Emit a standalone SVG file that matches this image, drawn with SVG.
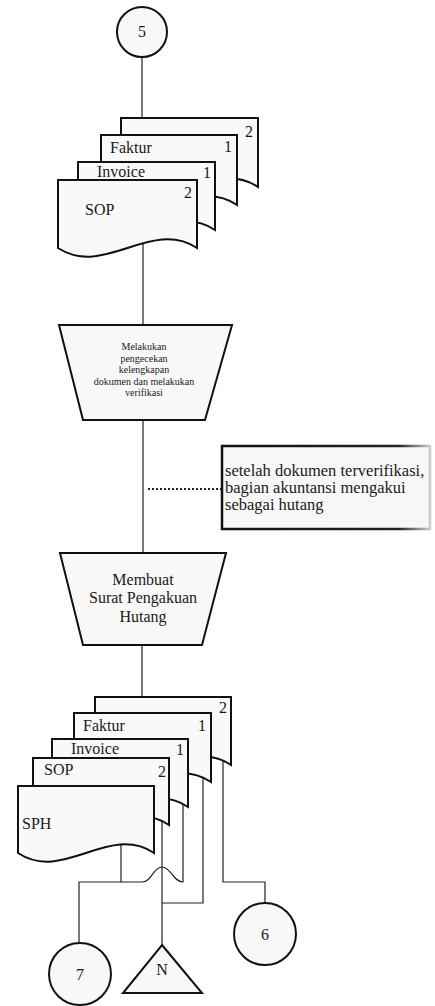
<svg xmlns="http://www.w3.org/2000/svg" width="435" height="1006" viewBox="0 0 435 1006">
  <defs>
    <style>
      .conn { fill: none; stroke: #222; stroke-width: 1.2; }
      .dot { fill: none; stroke: #222; stroke-width: 2; stroke-dasharray: 2 2; }
      .doc { fill: #f9f9f9; stroke: #111; stroke-width: 2; stroke-linejoin: miter; }
      .shape { fill: #f8f8f8; stroke: #111; stroke-width: 2; }
      .t { font-family: "Liberation Serif", "Times New Roman", serif; fill: #1a1a1a; }
      .t16 { font-size: 16px; }
      .t10 { font-size: 10px; }
      .tnote { font-size: 16.5px; }
      .mid { text-anchor: middle; }
    </style>
    <linearGradient id="noteEdge" x1="0" y1="0" x2="1" y2="0">
      <stop offset="0" stop-color="#111"/>
      <stop offset="0.85" stop-color="#222"/>
      <stop offset="1" stop-color="#ccc"/>
    </linearGradient>
  </defs>

  <!-- connectors (drawn first so document shapes sit over their ends) -->
  <g id="connectors">
    <path class="conn" d="M142,57 V118"/>
    <path class="conn" d="M143,240 V325"/>
    <path class="conn" d="M143,420 V553"/>
    <path class="dot" d="M148,489 H221"/>
    <path class="conn" d="M142,645 V697"/>
    <!-- SPH and Invoice to connector 7 -->
    <path class="conn" d="M121,845 V882 H79 V943"/>
    <path class="conn" d="M121,882 H142 C152,882 153,867 162,867 C171,867 173,882 183,882 V800"/>
    <!-- SOP and Faktur to archive N -->
    <path class="conn" d="M162,818 V945"/>
    <path class="conn" d="M203,775 V903 H162"/>
    <!-- second copy to connector 6 -->
    <path class="conn" d="M223,760 V882 H265 V903"/>
  </g>

  <!-- off-page connector 5 -->
  <g id="conn5">
    <circle class="shape" cx="142" cy="32" r="25"/>
    <text class="t t16 mid" x="142" y="37">5</text>
  </g>

  <!-- first document stack -->
  <g id="docs1">
    <g id="docs1-copy2">
      <path class="doc" d="M121,118 H258 V187 C212,157 167,217 121,187 Z"/>
      <text class="t t16" x="245" y="137">2</text>
    </g>
    <g id="docs1-faktur">
      <path class="doc" d="M101,135 H237 V205 C192,175 146,235 101,205 Z"/>
      <text class="t t16" x="110" y="153">Faktur</text>
      <text class="t t16" x="224" y="152">1</text>
    </g>
    <g id="docs1-invoice">
      <path class="doc" d="M78,162 H215 V230 C169,200 124,260 78,230 Z"/>
      <text class="t t16" x="97" y="177">Invoice</text>
      <text class="t t16" x="203" y="178">1</text>
    </g>
    <g id="docs1-sop">
      <path class="doc" d="M58,180 H197 V248 C151,218 104,278 58,248 Z"/>
      <text class="t t16" x="184" y="198">2</text>
      <text class="t t16" x="85" y="215">SOP</text>
    </g>
  </g>

  <!-- manual operation: verification -->
  <g id="verify">
    <path class="shape" d="M59,325 H232 L205,420 H83 Z"/>
    <text class="t t10 mid" x="144" y="350">Melakukan</text>
    <text class="t t10 mid" x="144" y="362">pengecekan</text>
    <text class="t t10 mid" x="144" y="373">kelengkapan</text>
    <text class="t t10 mid" x="144" y="385">dokumen dan melakukan</text>
    <text class="t t10 mid" x="144" y="396">verifikasi</text>
  </g>

  <!-- annotation -->
  <g id="note">
    <rect x="222" y="446" width="208" height="83" fill="#f7f7f7" stroke="url(#noteEdge)" stroke-width="2.5"/>
    <text class="t tnote" x="225" y="476">setelah dokumen terverifikasi,</text>
    <text class="t tnote" x="225" y="493">bagian akuntansi mengakui</text>
    <text class="t tnote" x="225" y="510">sebagai hutang</text>
  </g>

  <!-- manual operation: create SPH -->
  <g id="make-sph">
    <path class="shape" d="M60,553 H226 L202,645 H83 Z"/>
    <text class="t t16 mid" x="143" y="585">Membuat</text>
    <text class="t t16 mid" x="143" y="603">Surat Pengakuan</text>
    <text class="t t16 mid" x="143" y="622">Hutang</text>
  </g>

  <!-- second document stack -->
  <g id="docs2">
    <g id="docs2-copy2">
      <path class="doc" d="M95,697 H231 V765 C186,735 140,795 95,765 Z"/>
      <text class="t t16" x="219" y="713">2</text>
    </g>
    <g id="docs2-faktur">
      <path class="doc" d="M74,713 H211 V782 C165,752 120,812 74,782 Z"/>
      <text class="t t16" x="83" y="731">Faktur</text>
      <text class="t t16" x="198" y="731">1</text>
    </g>
    <g id="docs2-invoice">
      <path class="doc" d="M52,739 H188 V807 C143,777 97,837 52,807 Z"/>
      <text class="t t16" x="71" y="754">Invoice</text>
      <text class="t t16" x="176" y="755">1</text>
    </g>
    <g id="docs2-sop">
      <path class="doc" d="M33,758 H169 V825 C124,795 78,855 33,825 Z"/>
      <text class="t t16" x="44" y="775">SOP</text>
      <text class="t t16" x="158" y="777">2</text>
    </g>
    <g id="docs2-sph">
      <path class="doc" d="M18,786 H154 V853 C109,823 63,883 18,853 Z"/>
      <text class="t t16" x="22" y="829">SPH</text>
    </g>
  </g>

  <!-- off-page connector 6 -->
  <g id="conn6">
    <circle class="shape" cx="265" cy="934" r="31"/>
    <text class="t t16 mid" x="265" y="940">6</text>
  </g>

  <!-- off-page connector 7 -->
  <g id="conn7">
    <circle class="shape" cx="80" cy="974" r="31"/>
    <text class="t t16 mid" x="80" y="980">7</text>
  </g>

  <!-- archive N -->
  <g id="archive">
    <path class="shape" d="M162,945 L202,993 H123 Z"/>
    <text class="t t16 mid" x="162" y="975">N</text>
  </g>
</svg>
